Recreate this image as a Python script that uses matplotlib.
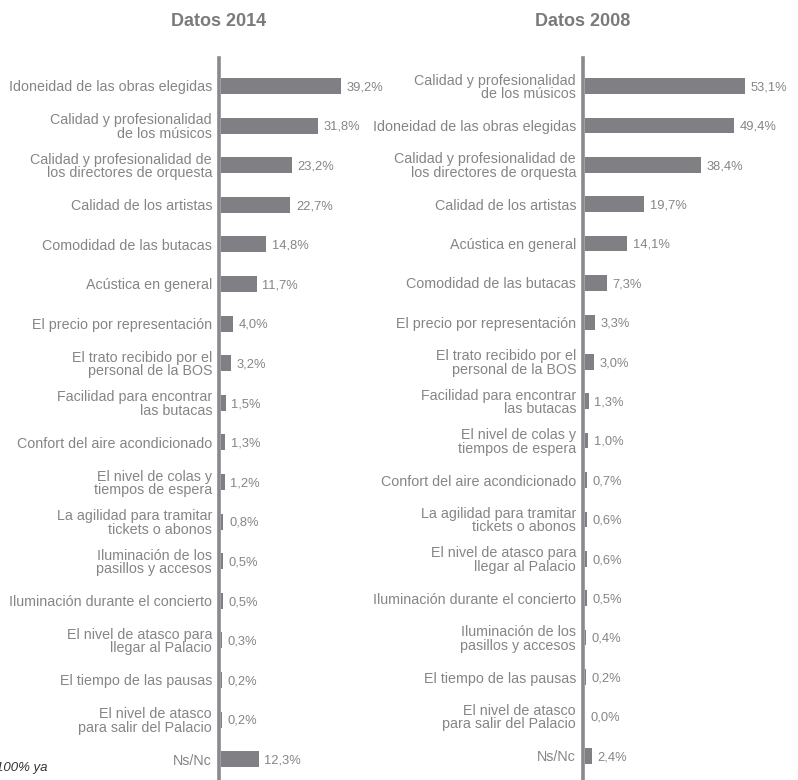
import matplotlib.pyplot as plt

plt.rcParams['font.family'] = ['Liberation Sans', 'DejaVu Sans']

labels_2014 = ["Idoneidad de las obras elegidas",
               "Calidad y profesionalidad\nde los músicos",
               "Calidad y profesionalidad de\nlos directores de orquesta",
               "Calidad de los artistas",
               "Comodidad de las butacas",
               "Acústica en general",
               "El precio por representación",
               "El trato recibido por el\npersonal de la BOS",
               "Facilidad para encontrar\nlas butacas",
               "Confort del aire acondicionado",
               "El nivel de colas y\ntiempos de espera",
               "La agilidad para tramitar\ntickets o abonos",
               "Iluminación de los\npasillos y accesos",
               "Iluminación durante el concierto",
               "El nivel de atasco para\nllegar al Palacio",
               "El tiempo de las pausas",
               "El nivel de atasco\npara salir del Palacio",
               "Ns/Nc"]
values_2014 = [39.2, 31.8, 23.2, 22.7, 14.8, 11.7, 4.0, 3.2, 1.5, 1.3,
               1.2, 0.8, 0.5, 0.5, 0.3, 0.2, 0.2, 12.3]

labels_2008 = ["Calidad y profesionalidad\nde los músicos",
               "Idoneidad de las obras elegidas",
               "Calidad y profesionalidad de\nlos directores de orquesta",
               "Calidad de los artistas",
               "Acústica en general",
               "Comodidad de las butacas",
               "El precio por representación",
               "El trato recibido por el\npersonal de la BOS",
               "Facilidad para encontrar\nlas butacas",
               "El nivel de colas y\ntiempos de espera",
               "Confort del aire acondicionado",
               "La agilidad para tramitar\ntickets o abonos",
               "El nivel de atasco para\nllegar al Palacio",
               "Iluminación durante el concierto",
               "Iluminación de los\npasillos y accesos",
               "El tiempo de las pausas",
               "El nivel de atasco\npara salir del Palacio",
               "Ns/Nc"]
values_2008 = [53.1, 49.4, 38.4, 19.7, 14.1, 7.3, 3.3, 3.0, 1.3, 1.0,
               0.7, 0.6, 0.6, 0.5, 0.4, 0.2, 0.0, 2.4]

bar_color = "#808084"
text_color = "#858585"
axis_color = "#8a8a8e"

W, H = 798, 780
fig = plt.figure(figsize=(W / 100, H / 100), dpi=100)


def panel(x_axis, px_per_unit, xmax, row0, step, labels, values, title):
    top = 58
    width = xmax * px_per_unit
    # bars start just right of the thick axis line
    ax = fig.add_axes([(x_axis + 2) / W, 0, width / W, (H - top) / H])
    for s in ['top', 'right', 'bottom']:
        ax.spines[s].set_visible(False)
    ax.spines['left'].set_position(('outward', 1.4))
    ax.spines['left'].set_color(axis_color)
    ax.spines['left'].set_linewidth(2.6)
    n = len(values)
    pos = list(range(n))
    ax.barh(pos, values, height=0.4, color=bar_color)
    ax.set_xlim(0, xmax)
    ax.set_ylim((H - row0) / step, -(row0 - top) / step)
    ax.set_yticks(pos)
    ax.set_yticklabels(labels, fontsize=10.3, color=text_color, linespacing=0.95)
    ax.tick_params(axis='y', length=0, pad=5, labelcolor=text_color)
    ax.set_xticks([])
    ax.patch.set_alpha(0)
    for p, v in zip(pos, values):
        ax.annotate(f"{v:.1f}%".replace(".", ","), (v, p), xytext=(4, -1),
                    textcoords='offset points', va='center', ha='left',
                    fontsize=9.3, color=text_color, annotation_clip=False)
    fig.text(x_axis / W, 1 - 22 / H, title, ha='center', va='center',
             fontsize=13, fontweight='bold', color="#7a7a7a")
    return ax


panel(219, 3.06, 50, 86, 39.6, labels_2014, values_2014, "Datos 2014")
panel(583, 3.01, 60, 86, 39.4, labels_2008, values_2008, "Datos 2008")

fig.text(-4 / W, 1 - 768 / H, "100% ya", ha='left', va='center',
         fontsize=9.5, style='italic', color="#333333")

fig.savefig("out.png", dpi=100)
